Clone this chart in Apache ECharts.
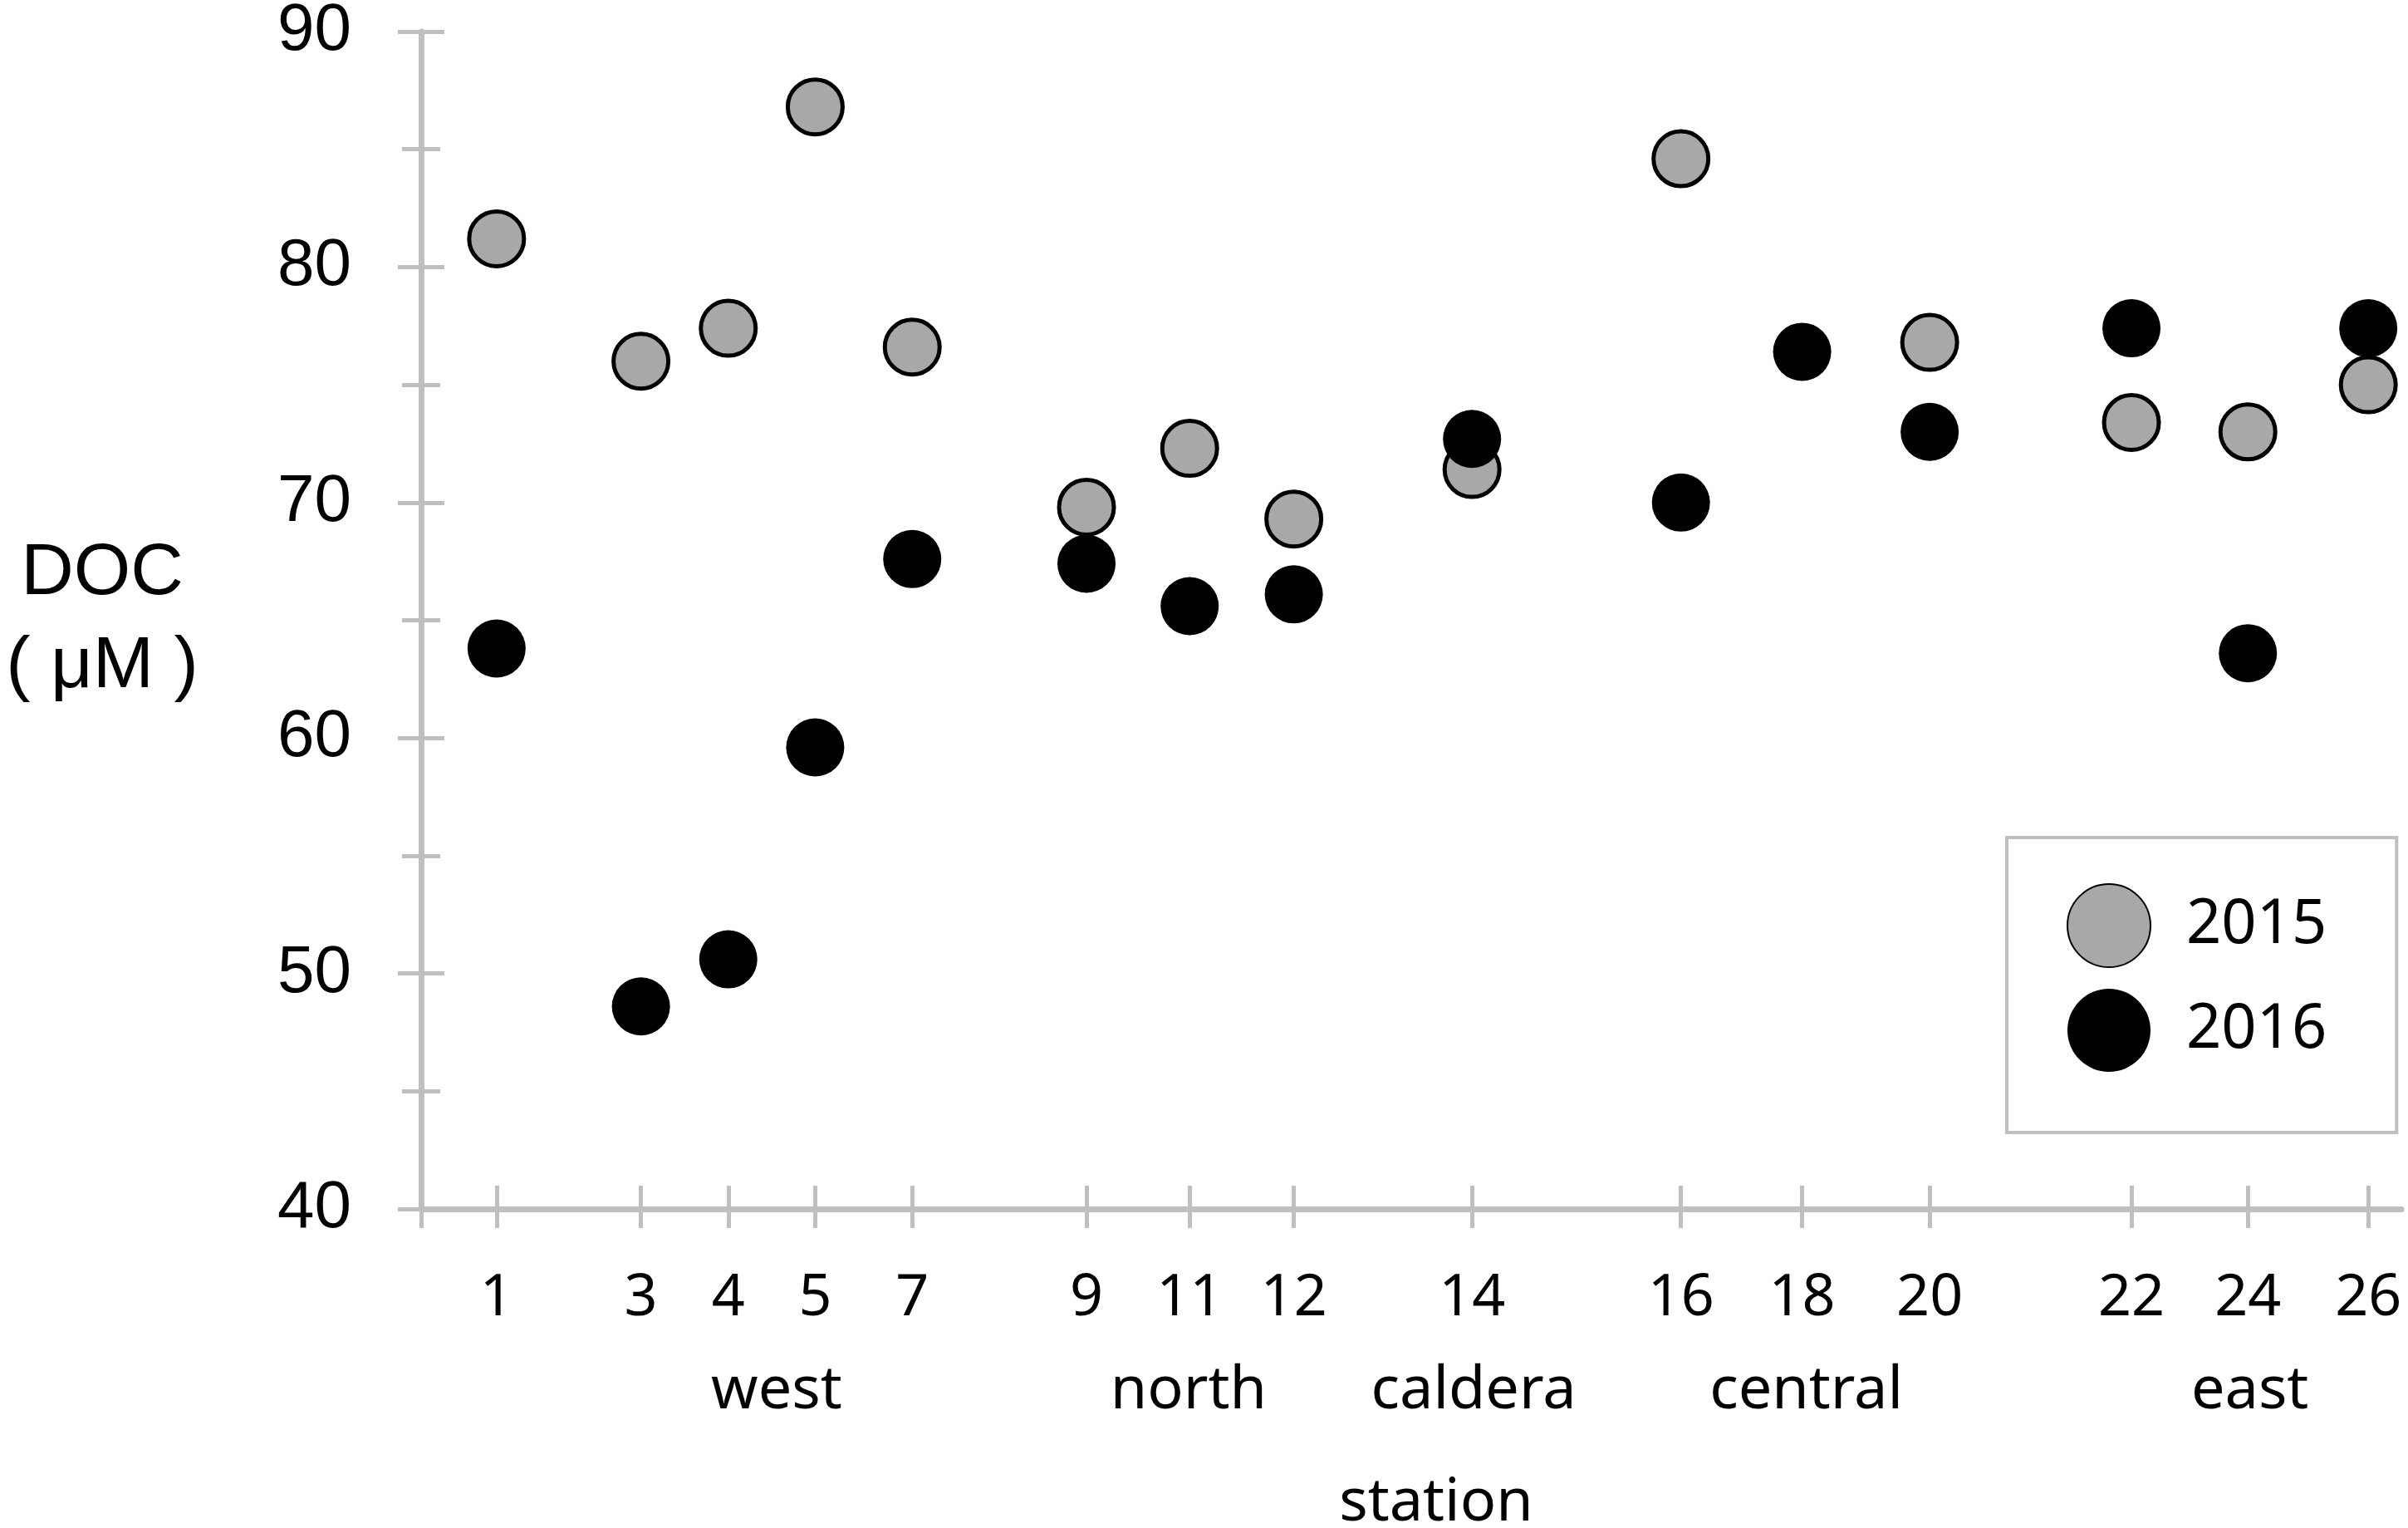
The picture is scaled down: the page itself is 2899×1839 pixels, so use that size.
<!DOCTYPE html>
<html lang="en">

<head>
	<meta charset="UTF-8">
	<title>DOC by station</title>
	<script src="https://cdn.jsdelivr.net/npm/echarts@6.0.0/dist/echarts.min.js"></script>
	<style>
		html, body { margin: 0; padding: 0; background: #fff; }
	</style>
</head>

<body>
	<div id="main" style="width: 2899px;height: 1839px;"></div>
</body>

<script>
	let mcharts = echarts.init(document.getElementById('main'))

	// stations along the transect, and where each sits on the x axis (0-100)
	const stations = ['1', '3', '4', '5', '7', '9', '11', '12', '14', '16', '18', '20', '22', '24', '26']
	const stationPos = [3.81, 11.10, 15.51, 19.90, 24.80, 33.60, 38.81, 44.07, 53.07, 63.62, 69.74, 76.18, 86.37, 92.25, 98.33]

	// DOC (uM), null = no sample
	const doc2015 = [81.2, 76.0, 77.4, 86.8, 76.6, 69.8, 72.3, 69.3, 71.4, 84.6, null, 76.8, 73.4, 73.0, 75.0]
	const doc2016 = [63.8, 48.6, 50.6, 59.6, 67.6, 67.4, 65.6, 66.1, 72.7, 70.0, 76.4, 73.0, 77.4, 63.6, 77.4]

	// region names under the station numbers
	const regions = ['west', 'north', 'caldera', 'central', 'east']
	const regionPos = [17.95, 38.75, 53.15, 69.95, 92.35]

	const toPoints = vals => vals
		.map((v, i) => [stationPos[i], v])
		.filter(p => p[1] !== null)

	const axisGray = '#bfbfbf'
	const sansFont = 'Noto Sans'

	let option = {
		animation: false,
		backgroundColor: '#fff',
		grid: {
			left: 507,
			right: 8,
			top: 38,
			bottom: 384,
			containLabel: false,
			outerBoundsMode: 'none'
		},
		legend: {
			data: ['2015', '2016'],
			orient: 'vertical',
			left: 2416,
			top: 1008,
			itemWidth: 100,
			itemHeight: 100,
			itemGap: 25,
			padding: [55, 84, 73, 72],
			borderColor: axisGray,
			borderWidth: 4,
			textStyle: {
				fontFamily: sansFont,
				fontSize: 74,
				color: '#000',
				padding: [0, 0, 0, 38]
			}
		},
		xAxis: [
			{
				// main axis: line, outward ticks, station numbers
				type: 'value',
				min: 0,
				max: 100,
				position: 'bottom',
				splitLine: { show: false },
				axisLine: { show: true, lineStyle: { color: axisGray, width: 7 } },
				axisTick: {
					show: true,
					length: 23,
					customValues: [0].concat(stationPos),
					lineStyle: { color: axisGray, width: 5 }
				},
				axisLabel: {
					customValues: stationPos,
					margin: 73,
					fontFamily: sansFont,
					fontSize: 70,
					color: '#000',
					formatter: v => stations[stationPos.indexOf(v)]
				}
			},
			{
				// same ticks pointing up, so they cross the line
				type: 'value',
				min: 0,
				max: 100,
				position: 'bottom',
				splitLine: { show: false },
				axisLine: { show: false },
				axisTick: {
					show: true,
					inside: true,
					length: 28,
					customValues: [0].concat(stationPos),
					lineStyle: { color: axisGray, width: 5 }
				},
				axisLabel: { show: false }
			},
			{
				// region names + axis title
				type: 'value',
				min: 0,
				max: 100,
				position: 'bottom',
				splitLine: { show: false },
				axisLine: { show: false },
				axisTick: { show: false },
				axisLabel: {
					customValues: regionPos,
					margin: 183,
					fontFamily: sansFont,
					fontSize: 72,
					color: '#000',
					formatter: v => regions[regionPos.indexOf(v)]
				},
				name: 'station',
				nameLocation: 'middle',
				nameGap: 318,
				nameTextStyle: {
					fontFamily: sansFont,
					fontSize: 72,
					color: '#000',
					padding: [0, 0, 0, 60]
				}
			}
		],
		yAxis: [
			{
				type: 'value',
				min: 40,
				max: 90,
				interval: 10,
				position: 'left',
				splitLine: { show: false },
				axisLine: { show: true, lineStyle: { color: axisGray, width: 7 } },
				axisTick: { show: true, length: 28, lineStyle: { color: axisGray, width: 5 } },
				minorTick: { show: true, splitNumber: 2, length: 23, lineStyle: { color: axisGray, width: 5 } },
				minorSplitLine: { show: false },
				axisLabel: {
					margin: 84,
					fontFamily: 'Liberation Sans',
					fontSize: 80,
					color: '#000'
				},
				name: 'DOC\n( μM )',
				nameLocation: 'middle',
				nameRotate: 0,
				nameGap: 384,
				nameTextStyle: {
					fontFamily: 'Liberation Sans',
					fontSize: 88,
					lineHeight: 112,
					color: '#000',
					align: 'center',
					verticalAlign: 'middle',
					padding: [0, 0, 48, 0]
				}
			},
			{
				// ticks pointing into the plot, to cross the axis line
				type: 'value',
				min: 40,
				max: 90,
				interval: 10,
				position: 'left',
				splitLine: { show: false },
				axisLine: { show: false },
				axisTick: { show: true, inside: true, length: 28, lineStyle: { color: axisGray, width: 5 } },
				minorTick: { show: true, splitNumber: 2, length: 23, lineStyle: { color: axisGray, width: 5 } },
				minorSplitLine: { show: false },
				axisLabel: { show: false }
			}
		],
		series: [
			{
				name: '2015',
				type: 'scatter',
				xAxisIndex: 0,
				yAxisIndex: 0,
				symbol: 'circle',
				symbolSize: 66,
				data: toPoints(doc2015),
				itemStyle: {
					color: '#a7a8aa',
					borderColor: '#000',
					borderWidth: 5,
					opacity: 1
				},
				z: 2
			},
			{
				name: '2016',
				type: 'scatter',
				xAxisIndex: 0,
				yAxisIndex: 0,
				symbol: 'circle',
				symbolSize: 70,
				data: toPoints(doc2016),
				itemStyle: {
					color: '#000',
					opacity: 1
				},
				z: 3
			}
		]
	}

	mcharts.setOption(option)
</script>

</html>
